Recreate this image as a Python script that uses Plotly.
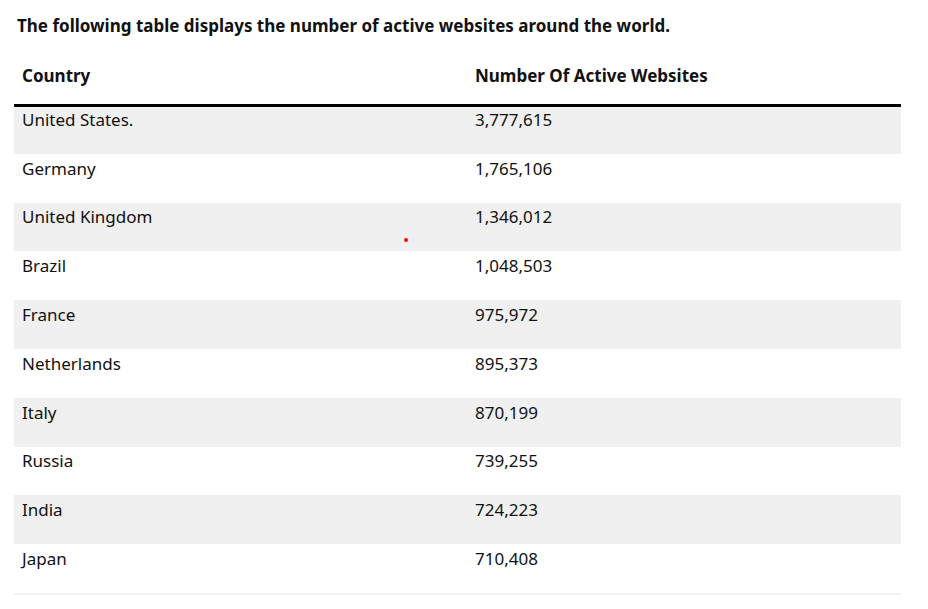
import plotly.graph_objects as go

countries = ["United States.", "Germany", "United Kingdom", "Brazil", "France",
             "Netherlands", "Italy", "Russia", "India", "Japan"]
websites = ["3,777,615", "1,765,106", "1,346,012", "1,048,503", "975,972",
            "895,373", "870,199", "739,255", "724,223", "710,408"]
headers = ["<b>Country</b>", "<b>Number Of Active Websites</b>"]
title = "<b>The following table displays the number of active websites around the world.</b>"

W, H = 928, 609
fills = ["#f0f0f0" if i % 2 == 0 else "#ffffff" for i in range(len(countries))]
font = "Noto Sans, Open Sans, sans-serif"

fig = go.Figure(go.Table(
    domain=dict(x=[6/W, 893/W], y=[1-586/H, 1-48/H]),
    columnwidth=[453, 434],
    header=dict(values=headers, align="left", height=49,
                fill_color="white", line=dict(color="white", width=0),
                font=dict(family=font, size=17, color="#111")),
    cells=dict(values=[countries, websites], align="left", height=48.8,
               fill_color=[fills, fills], line=dict(color="rgba(0,0,0,0)", width=0),
               font=dict(family=font, size=17, color="#111")),
))
fig.add_shape(type="line", xref="paper", yref="paper", x0=6/W, x1=893/W,
              y0=1-97.5/H, y1=1-97.5/H, line=dict(color="black", width=3))
fig.add_shape(type="line", xref="paper", yref="paper", x0=6/W, x1=893/W,
              y0=1-586/H, y1=1-586/H, line=dict(color="#e6e6e6", width=1))
fig.add_shape(type="circle", xref="paper", yref="paper", x0=396/W, x1=400/W,
              y0=1-234/H, y1=1-230/H, fillcolor="red", line=dict(width=0))
fig.add_annotation(text=title, xref="paper", yref="paper", x=7/W, y=1-18/H,
                   xanchor="left", yanchor="middle", showarrow=False,
                   font=dict(family=font, size=17, color="#111"))
fig.update_layout(width=W, height=H, margin=dict(l=0, r=0, t=0, b=0),
                  paper_bgcolor="white", plot_bgcolor="white")
fig.write_html("out.html")
